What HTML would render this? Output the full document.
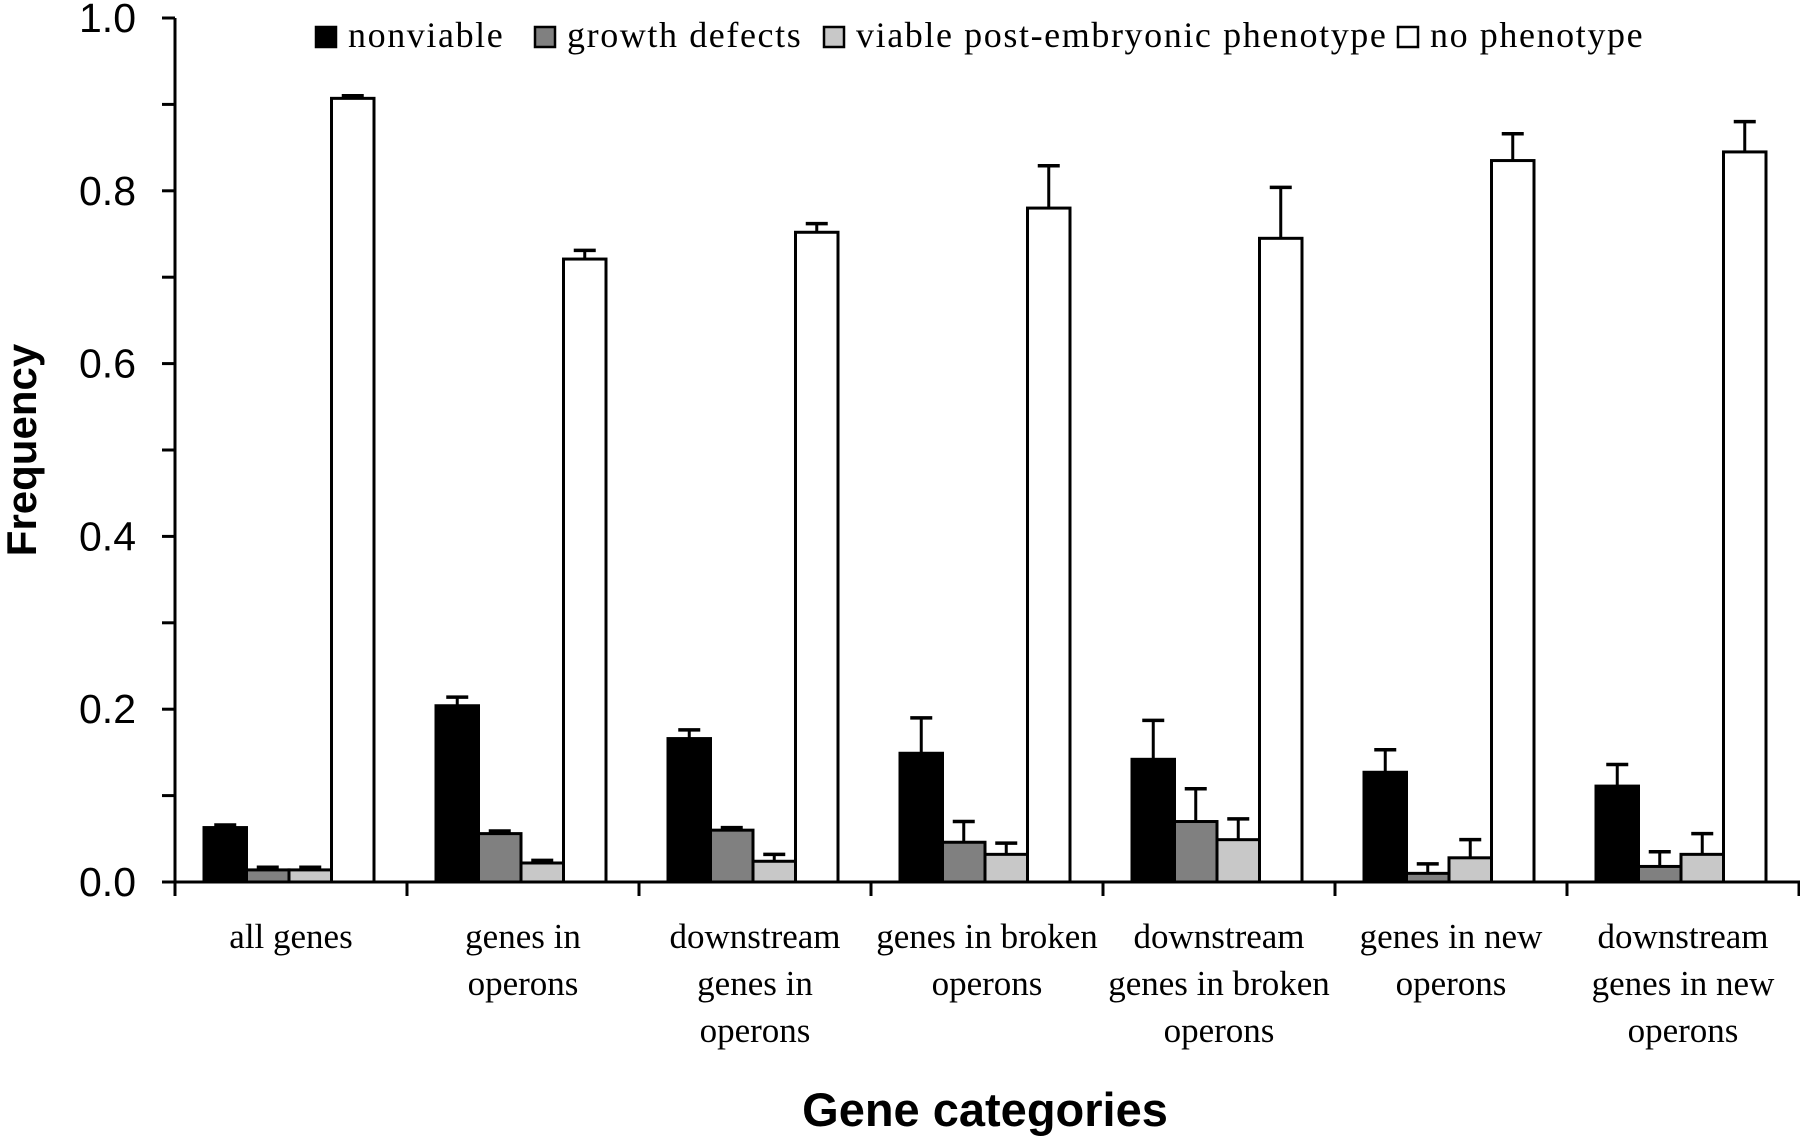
<!DOCTYPE html>
<html><head><meta charset="utf-8"><style>
html,body{margin:0;padding:0;background:#fff;}
svg{display:block;}
</style></head><body>
<svg id="chart" width="1800" height="1136" xmlns="http://www.w3.org/2000/svg"></svg>
<script>
const categories = [["all genes"],["genes in","operons"],["downstream","genes in","operons"],["genes in broken","operons"],["downstream","genes in broken","operons"],["genes in new","operons"],["downstream","genes in new","operons"]];
const seriesNames = ["nonviable","growth defects","viable post-embryonic phenotype","no phenotype"];
const nonviable = [0.063,0.204,0.166,0.149,0.142,0.127,0.111];
const growthDefects = [0.014,0.056,0.060,0.046,0.070,0.010,0.018];
const viablePost = [0.014,0.022,0.024,0.032,0.049,0.028,0.032];
const noPhenotype = [0.907,0.721,0.752,0.780,0.745,0.835,0.845];
const errNonviable = [0.003,0.010,0.010,0.041,0.045,0.026,0.025];
const errGrowth = [0.003,0.003,0.003,0.024,0.038,0.011,0.017];
const errViable = [0.003,0.003,0.008,0.013,0.024,0.021,0.024];
const errNoPheno = [0.003,0.010,0.010,0.049,0.059,0.031,0.035];
const yTicks = ["0.0","0.2","0.4","0.6","0.8","1.0"];

const NS="http://www.w3.org/2000/svg";
const svg=document.getElementById('chart');
const X0=175, Y0=882, YTOP=18, CATW=232, BARW=42.5, BAROFF=29;
function yScale(v){return Y0-v*(Y0-YTOP);}
function xCat(i){return X0+i*CATW;}
function mk(tag,attrs){const e=document.createElementNS(NS,tag);for(const k in attrs)e.setAttribute(k,attrs[k]);svg.appendChild(e);return e;}

const series=[nonviable,growthDefects,viablePost,noPhenotype];
const errs=[errNonviable,errGrowth,errViable,errNoPheno];
const fills=["#000000","#808080","#c8c8c8","#ffffff"];
const keys=["nonviable","growth","viable","nopheno"];

for(let s=0;s<4;s++){
  for(let i=0;i<categories.length;i++){
    const v=series[s][i], e=errs[s][i];
    const x=xCat(i)+BAROFF+s*BARW, cx=x+BARW/2;
    const el=document.createElementNS(NS,'line');
    el.setAttribute('x1',cx);el.setAttribute('x2',cx);el.setAttribute('y1',yScale(v));el.setAttribute('y2',yScale(v+e));
    el.setAttribute('stroke','#000');el.setAttribute('stroke-width','3');
    
    
    svg.appendChild(el);
    const cap=document.createElementNS(NS,'line');
    cap.setAttribute('x1',cx-11);cap.setAttribute('x2',cx+11);cap.setAttribute('y1',yScale(v+e));cap.setAttribute('y2',yScale(v+e));
    cap.setAttribute('stroke','#000');cap.setAttribute('stroke-width','3.5');
    
    
    svg.appendChild(cap);
    const r=document.createElementNS(NS,'rect');
    r.setAttribute('x',x);r.setAttribute('y',yScale(v));r.setAttribute('width',BARW);r.setAttribute('height',Y0-yScale(v));
    r.setAttribute('fill',fills[s]);r.setAttribute('stroke','#000');r.setAttribute('stroke-width','3');
    
    
    svg.appendChild(r);
  }
}

const ya=mk('line',{x1:X0,x2:X0,y1:YTOP,y2:Y0,stroke:'#000','stroke-width':3});


for(let k=0;k<=10;k++){
  const y=yScale(k/10);
  const t=mk('line',{x1:X0-13,x2:X0,y1:y,y2:y,stroke:'#000','stroke-width':3});
  
  
}
yTicks.forEach((lab,k)=>{
  const t=mk('text',{x:136,y:yScale(k*0.2)+14,'text-anchor':'end','font-family':'Liberation Sans, sans-serif','font-size':41});
  t.textContent=lab;
  
  
});
const xa=mk('line',{x1:X0,x2:1800,y1:Y0,y2:Y0,stroke:'#000','stroke-width':3});


for(let i=0;i<=categories.length;i++){
  const t=mk('line',{x1:xCat(i),x2:xCat(i),y1:Y0,y2:Y0+14,stroke:'#000','stroke-width':3});
  
  
}
categories.forEach((lines,i)=>{
  const t=mk('text',{'text-anchor':'middle','font-family':'Liberation Serif, serif','font-size':35});
  lines.forEach((ln,j)=>{
    const ts=document.createElementNS(NS,'tspan');
    ts.setAttribute('x',xCat(i)+CATW/2);ts.setAttribute('y',948+j*47);
    ts.textContent=ln;t.appendChild(ts);
  });
  
  
});
const xt=mk('text',{x:985,y:1126,'text-anchor':'middle','font-family':'Liberation Sans, sans-serif','font-size':47,'font-weight':'bold'});
xt.textContent='Gene categories';


const yt=mk('text',{x:0,y:0,'text-anchor':'middle','font-family':'Liberation Sans, sans-serif','font-size':42,'font-weight':'bold',transform:'translate(36,450) rotate(-90)'});
yt.textContent='Frequency';


const legSq=[316,535,824,1398];
seriesNames.forEach((n,s)=>{
  const r=mk('rect',{x:legSq[s],y:27,width:20,height:20,fill:fills[s],stroke:'#000','stroke-width':2.5});
  
  
  const t=mk('text',{x:legSq[s]+32,y:47,'font-family':'Liberation Serif, serif','font-size':36,'letter-spacing':'1.6'});
  t.textContent=n;
  
  
});
</script>
</body></html>
